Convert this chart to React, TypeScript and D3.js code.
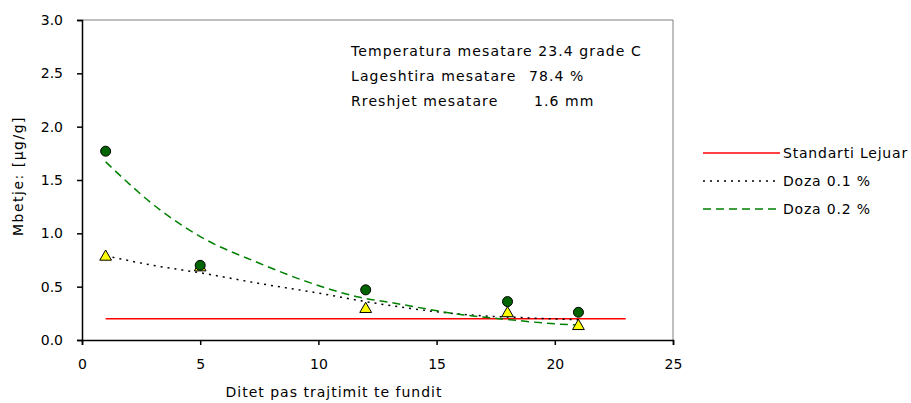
import * as React from 'react';
import * as d3 from 'd3';

// days after last treatment
const days = [1, 5, 12, 18, 21];
// measured residues, µg/g
const doza02 = [1.77, 0.70, 0.47, 0.36, 0.26];
const doza01 = [0.78, 0.68, 0.29, 0.25, 0.13];

// trend lines (x, y)
const trend02: [number, number][] = [
    [1, 1.67], [3.3, 1.22], [5, 0.97], [7.5, 0.72], [9.6, 0.54], [11.75, 0.40],
    [13.1, 0.35], [16, 0.24], [18.1, 0.19], [20.1, 0.15], [21, 0.14],
];
const trend01: [number, number][] = [
    [1, 0.79], [3, 0.70], [5, 0.63], [7.5, 0.53], [10, 0.44], [12, 0.36],
    [14.8, 0.27], [16.7, 0.23], [18.6, 0.21], [21, 0.19],
];

const standardValue = 0.2;
const standardRange = [1, 23];

const xTicks = [0, 5, 10, 15, 20, 25];
const yTicks = [0, 0.5, 1, 1.5, 2, 2.5, 3];

const legendLabels = ['Standarti Lejuar', 'Doza 0.1 %', 'Doza 0.2 %'];
const noteLines = [
    ['Temperatura mesatare 23.4 grade C', ''],
    ['Lageshtira mesatare', '78.4 %'],
    ['Rreshjet mesatare', '1.6 mm'],
];

const FONT = '"DejaVu Sans", Verdana, sans-serif';

export default function App() {
    const ref = React.useRef<SVGSVGElement>(null);

    React.useEffect(() => {
        const svg = d3.select(ref.current);
        svg.selectAll('*').remove();

        const margin = { left: 82, top: 20, right: 238, bottom: 63 };
        const width = 911 - margin.left - margin.right;
        const height = 403 - margin.top - margin.bottom;

        const x = d3.scaleLinear().domain([0, 25]).range([0, width]);
        const y = d3.scaleLinear().domain([0, 3]).range([height, 0]);

        const g = svg.append('g')
            .attr('transform', `translate(${margin.left},${margin.top})`);

        // plot frame (top and right in grey)
        g.append('line').attr('x1', 0).attr('x2', width).attr('y1', 0).attr('y2', 0)
            .attr('stroke', '#808080');
        g.append('line').attr('x1', width).attr('x2', width).attr('y1', 0).attr('y2', height)
            .attr('stroke', '#808080');

        // axes
        const xAxis = g.append('g')
            .attr('transform', `translate(0,${height})`)
            .call(d3.axisBottom(x).tickValues(xTicks).tickFormat(d3.format('d')).tickSizeOuter(0).tickSize(5).tickPadding(14));
        const yAxis = g.append('g')
            .call(d3.axisLeft(y).tickValues(yTicks).tickFormat(d3.format('.1f')).tickSizeOuter(0).tickSize(5).tickPadding(14));

        [xAxis, yAxis].forEach((a) => {
            a.select('.domain').attr('stroke', '#000').attr('stroke-width', 1.5);
            a.selectAll('.tick line').attr('stroke', '#000').attr('stroke-width', 1.5);
            a.selectAll('.tick text')
                .attr('font-family', FONT).attr('font-size', 14).attr('fill', '#000');
        });

        // axis titles
        svg.append('text')
            .attr('x', 334).attr('y', 397)
            .attr('text-anchor', 'middle')
            .attr('font-family', FONT).attr('font-size', 14).attr('letter-spacing', 1)
            .text('Ditet pas trajtimit te fundit');
        svg.append('text')
            .attr('transform', 'translate(23,176) rotate(-90)')
            .attr('text-anchor', 'middle')
            .attr('font-family', FONT).attr('font-size', 14).attr('letter-spacing', 1.5)
            .text('Mbetje: [µg/g]');

        // standard line
        g.append('line')
            .attr('x1', x(standardRange[0])).attr('x2', x(standardRange[1]))
            .attr('y1', y(standardValue)).attr('y2', y(standardValue))
            .attr('stroke', '#ff0000').attr('stroke-width', 1.5);

        const line = d3.line<[number, number]>()
            .x((d) => x(d[0]))
            .y((d) => y(d[1]))
            .curve(d3.curveMonotoneX);

        g.append('path').attr('d', line(trend01))
            .attr('fill', 'none').attr('stroke', '#000')
            .attr('stroke-width', 1.5).attr('stroke-dasharray', '2,5');
        g.append('path').attr('d', line(trend02))
            .attr('fill', 'none').attr('stroke', '#008000')
            .attr('stroke-width', 1.5).attr('stroke-dasharray', '8,5');

        // triangles (Doza 0.1)
        const tri = d3.symbol().type(d3.symbolTriangle).size(60);
        g.selectAll('path.tri')
            .data(days.map((d, i) => [d, doza01[i]]))
            .enter().append('path')
            .attr('class', 'tri')
            .attr('d', tri)
            .attr('transform', (d) => `translate(${x(d[0])},${y(d[1])})`)
            .attr('fill', '#ffff00').attr('stroke', '#000').attr('stroke-width', 1);

        // circles (Doza 0.2)
        g.selectAll('circle.pt')
            .data(days.map((d, i) => [d, doza02[i]]))
            .enter().append('circle')
            .attr('class', 'pt')
            .attr('cx', (d) => x(d[0]))
            .attr('cy', (d) => y(d[1]))
            .attr('r', 5)
            .attr('fill', '#006400').attr('stroke', '#000').attr('stroke-width', 1);

        // note
        const note = svg.append('g').attr('font-family', FONT).attr('font-size', 14)
            .attr('letter-spacing', 1.1);
        noteLines.forEach((l, i) => {
            note.append('text').attr('x', 351).attr('y', 56 + i * 25).text(l[0]);
            if (l[1]) note.append('text').attr('x', i === 2 ? 534 : 529).attr('y', 56 + i * 25).text(l[1]);
        });

        // legend
        const legend = svg.append('g').attr('transform', 'translate(703,153)');
        const styles = [
            { stroke: '#ff0000', dash: null },
            { stroke: '#000', dash: '2,5' },
            { stroke: '#008000', dash: '8,5' },
        ];
        legendLabels.forEach((label, i) => {
            const row = legend.append('g').attr('transform', `translate(0,${i * 28})`);
            row.append('line').attr('x1', 0).attr('x2', 77).attr('y1', 0).attr('y2', 0)
                .attr('stroke', styles[i].stroke).attr('stroke-width', 1.5)
                .attr('stroke-dasharray', styles[i].dash);
            row.append('text').attr('x', 80).attr('y', 5)
                .attr('font-family', FONT).attr('font-size', 14).attr('letter-spacing', 0.8)
                .text(label);
        });
    }, []);

    return (
        <svg ref={ref} width={911} height={403} style={{ display: 'block', position: 'absolute', left: 0, top: 0 }} />
    );
}
